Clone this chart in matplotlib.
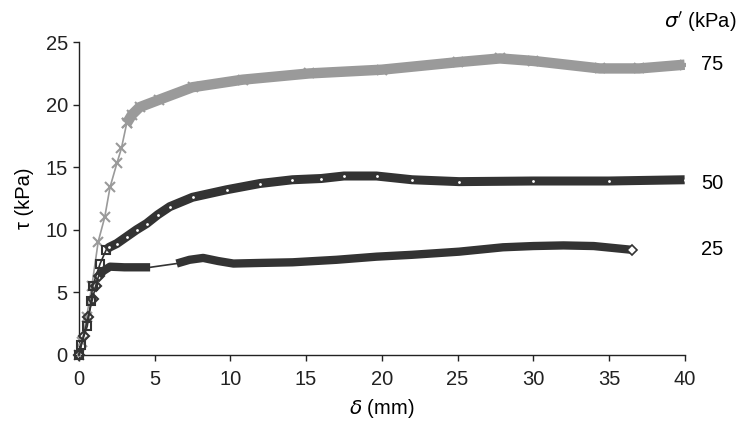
import matplotlib
matplotlib.use("Agg")
import matplotlib.pyplot as plt

plt.rcParams['font.family'] = ['Liberation Sans', 'DejaVu Sans']

# sigma' = 75 kPa
d75 = [0, 0.2, 0.5, 0.85, 1.27, 1.7, 2.05, 2.5, 2.8, 3.15, 3.5, 4.0, 5.3, 7.5,
       10.8, 15.2, 20, 25, 27.8, 30, 34.4, 37, 40]
t75 = [0, 1, 3, 5.5, 9.05, 11, 13.4, 15.3, 16.5, 18.5, 19.2, 19.8, 20.4, 21.4,
       22.0, 22.5, 22.8, 23.4, 23.7, 23.5, 22.9, 22.9, 23.2]

# sigma' = 50 kPa
d50 = [0, 0.13, 0.55, 0.8, 0.9, 1.4, 1.8, 2.0, 2.5, 3.15, 3.8, 4.47, 5.2, 6.0,
       7.5, 9.75, 11.95, 14.1, 16, 17.5, 19.65, 22, 25.1, 30, 35, 40]
t50 = [0, 0.8, 2.3, 4.3, 5.5, 7.3, 8.4, 8.6, 8.9, 9.45, 10.0, 10.5, 11.2, 11.85,
       12.6, 13.2, 13.7, 14.0, 14.1, 14.3, 14.3, 14.0, 13.85, 13.9, 13.9, 14.0]

# sigma' = 25 kPa
d25 = [0, 0.3, 0.6, 0.9, 1.1, 1.3, 1.6, 2.05, 3.0, 4.0, 4.7, 6.45, 7.3, 8.2,
       9.2, 10.2, 12, 14.1, 17, 19.65, 22, 25.1, 28, 30, 32, 34, 36.5]
t25 = [0, 1.5, 3, 4.5, 5.5, 6.3, 6.7, 7.05, 7.0, 7.0, 7.0, 7.3, 7.6, 7.75,
       7.5, 7.3, 7.35, 7.4, 7.6, 7.85, 8.0, 8.25, 8.6, 8.7, 8.75, 8.7, 8.4]

labels = ['75', '50', '25']

fig = plt.figure(figsize=(7.45, 4.26), dpi=100)
ax = fig.add_axes([0.106, 0.167, 0.813, 0.734])

gray = '#9a9a9a'
dark = '#333333'

# 75 kPa: thin ramp, then thick band
n = 9
ax.plot(d75[:n + 1], t75[:n + 1], color=gray, lw=1.2, marker='x', ms=7,
        mew=1.5, clip_on=False, zorder=3)
ax.plot(d75[n:], t75[n:], color=gray, lw=7.5, solid_capstyle='butt', zorder=3)
ax.plot(d75[n:], t75[n:], color=gray, lw=0, marker='x', ms=7, mew=1.5, zorder=3)

# 50 kPa
n = 6
ax.plot(d50[:n + 1], t50[:n + 1], color=dark, lw=1.2, marker='s', ms=6,
        mfc='none', mew=1.5, clip_on=False, zorder=4)
ax.plot(d50[n:], t50[n:], color=dark, lw=6.5, solid_capstyle='butt', zorder=4)
ax.plot(d50[n + 1:], t50[n + 1:], lw=0, marker='.', ms=2, color='white', zorder=5)

# 25 kPa
n = 5
ax.plot(d25[:n + 1], t25[:n + 1], color=dark, lw=1.2, marker='D', ms=5,
        mfc='none', mew=1.5, clip_on=False, zorder=4)
ax.plot(d25[n:11], t25[n:11], color=dark, lw=6, solid_capstyle='butt', zorder=4)
ax.plot(d25[10:12], t25[10:12], color=dark, lw=1.2, zorder=4)
ax.plot(d25[11:], t25[11:], color=dark, lw=6, solid_capstyle='butt', zorder=4)
ax.plot(d25[-1:], t25[-1:], color=dark, lw=0, marker='D', ms=5, mfc='white',
        mew=1.2, zorder=5)

ax.set_xlim(0, 40)
ax.set_ylim(0, 25)
ax.set_xticks(range(0, 41, 5))
ax.set_yticks(range(0, 26, 5))
for s in ['top', 'right']:
    ax.spines[s].set_visible(False)
for s in ['left', 'bottom']:
    ax.spines[s].set_linewidth(1.0)
    ax.spines[s].set_color('#222222')
ax.tick_params(direction='out', length=4, width=1.0, labelsize=14.5,
               colors='#222222')
ax.tick_params(axis='x', pad=7)
ax.tick_params(axis='y', pad=4)

ax.set_xlabel('$\\delta$ (mm)', fontsize=14.5, labelpad=6)
ax.set_ylabel('τ (kPa)', fontsize=14.5, labelpad=8)

ax.text(41.1, t75[-1], labels[0], fontsize=14.5, va='center', ha='left')
ax.text(41.1, t50[-1] - 0.3, labels[1], fontsize=14.5, va='center', ha='left')
ax.text(41.1, 8.4, labels[2], fontsize=14.5, va='center', ha='left')
fig.text(0.94, 0.948, "$\\sigma'$ (kPa)", fontsize=14.5, ha='center', va='center')

fig.savefig('out.png', dpi=100)
